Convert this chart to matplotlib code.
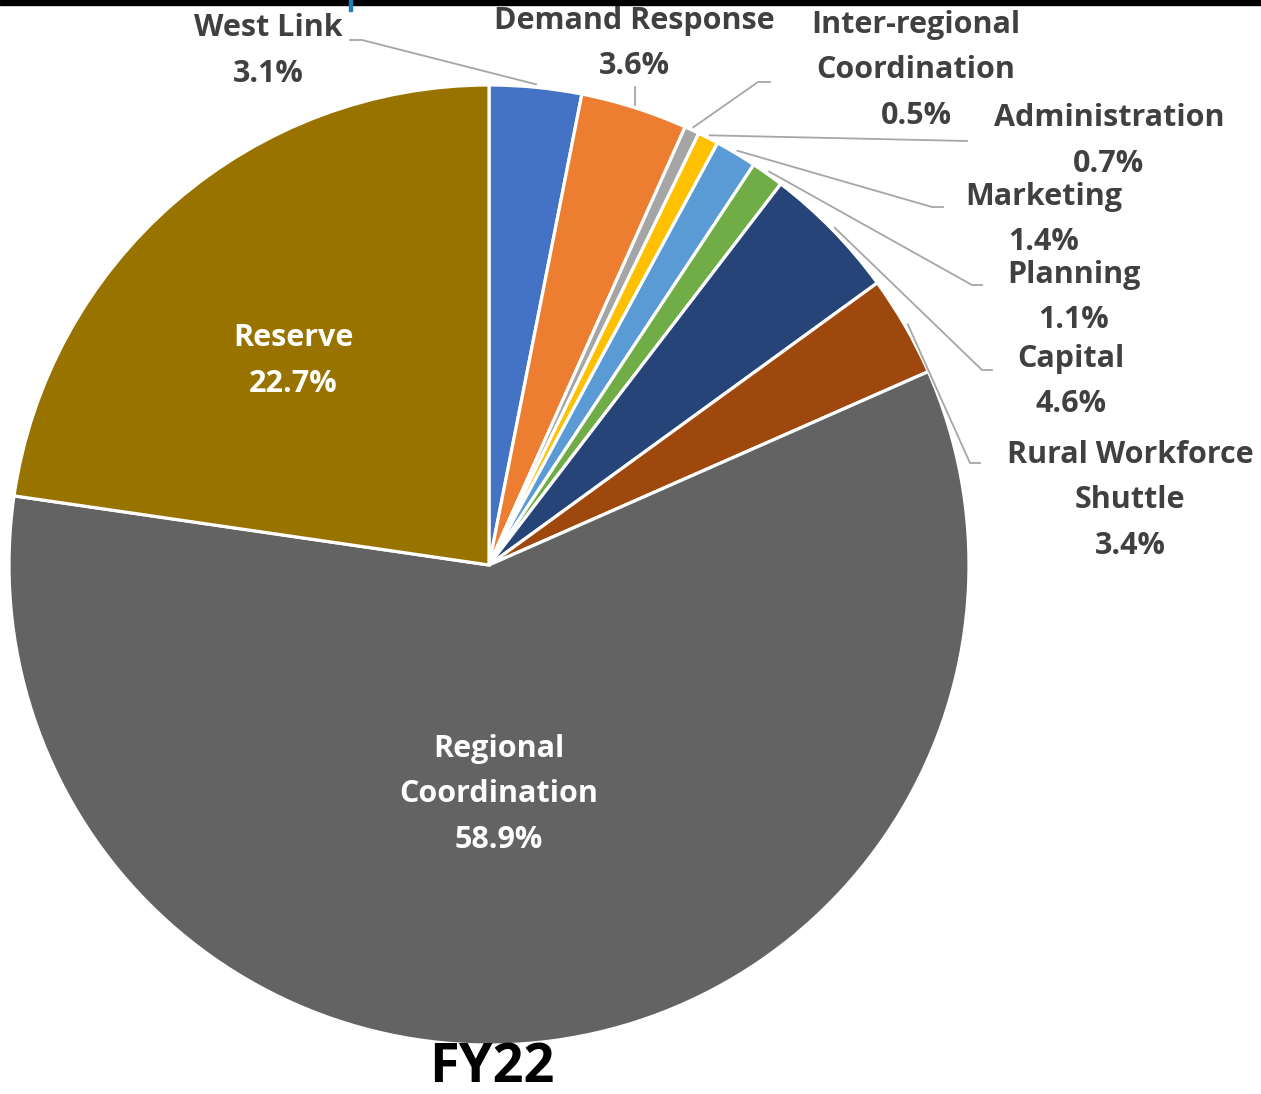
import numpy as np
import matplotlib
matplotlib.use("Agg")
import matplotlib.pyplot as plt

# budget shares, FY22 (%)
categories = ["West Link", "Demand Response", "Inter-regional\nCoordination", "Administration",
              "Marketing", "Planning", "Capital", "Rural Workforce\nShuttle",
              "Regional\nCoordination", "Reserve"]
shares = [3.1, 3.6, 0.5, 0.7, 1.4, 1.1, 4.6, 3.4, 58.9, 22.7]
colors = ["#4472C4", "#ED7D31", "#A5A5A5", "#FFC000", "#5B9BD5", "#70AD47",
          "#264478", "#9E480E", "#636363", "#997300"]

W, H = 1261, 1094
CX, CY, R = 489, 565, 480   # pie centre / radius in image pixels (y down)

def fy(y):
    return H - y

plt.rcParams['font.family'] = ['Open Sans', 'DejaVu Sans']

fig = plt.figure(figsize=(W / 100, H / 100), dpi=100)
ax = fig.add_axes([0, 0, 1, 1])

wedges, _ = ax.pie(shares, colors=colors, startangle=90, counterclock=False,
                   center=(CX, fy(CY)), radius=R, frame=True,
                   wedgeprops=dict(edgecolor="white", linewidth=2.3))
ax.set_xlim(0, W)
ax.set_ylim(0, H)
ax.set_aspect("equal")
ax.axis("off")

# label placement: (text x, text top line y, elbow x, elbow y, end x) in pixels, None = inside
outside = {
    0: (268, 28, 362, 40, 350),
    1: (634, 21, None, None, None),
    2: (916, 25, 758, 82, 770),
    3: (1109, 118, 967, 141, 967),
    4: (1044, 197, 932, 207, 943),
    5: (1074, 275, 972, 285, 982),
    6: (1071, 359, 982, 370, 992),
    7: (1130, 455, 970, 463, 980),
}
inside = {8: (499, 749), 9: (293, 338)}

line_gap = 45.5
fs = 22
gray_txt = "#404040"
lead = "#A6A6A6"

cum = np.cumsum([0] + shares[:-1])
for i, (name, val) in enumerate(zip(categories, shares)):
    lines = name.split("\n") + [f"{val:.1f}%"]
    if i in outside:
        tx, ty, ex, ey, endx = outside[i]
        col = gray_txt
        # leader line anchored on the slice mid angle
        ang = np.deg2rad((cum[i] + val / 2) / 100 * 360)
        axp = CX + (R + 3) * np.sin(ang)
        ayp = CY - (R + 3) * np.cos(ang)
        if ex is None:
            ax.plot([axp, axp], [fy(ayp), fy(ayp - 18)], color=lead, lw=1.3)
        else:
            ax.plot([axp, ex, endx], [fy(ayp), fy(ey), fy(ey)], color=lead, lw=1.3)
    else:
        tx, ty = inside[i]
        col = "white"
    for k, s in enumerate(lines):
        ax.text(tx, fy(ty + k * line_gap), s, ha="center", va="center",
                fontsize=fs, fontweight="bold", color=col)

ax.text(492, fy(1068), "FY22", ha="center", va="center", fontsize=39,
        fontweight="bold", color="black")

# dark strip along the top edge
ax.add_patch(plt.Rectangle((0, fy(5)), W, 5, color="black", zorder=5))
ax.add_patch(plt.Rectangle((349, fy(11)), 3, 11, color="#1F7FB8", zorder=6))

fig.savefig("out.png", dpi=100)
